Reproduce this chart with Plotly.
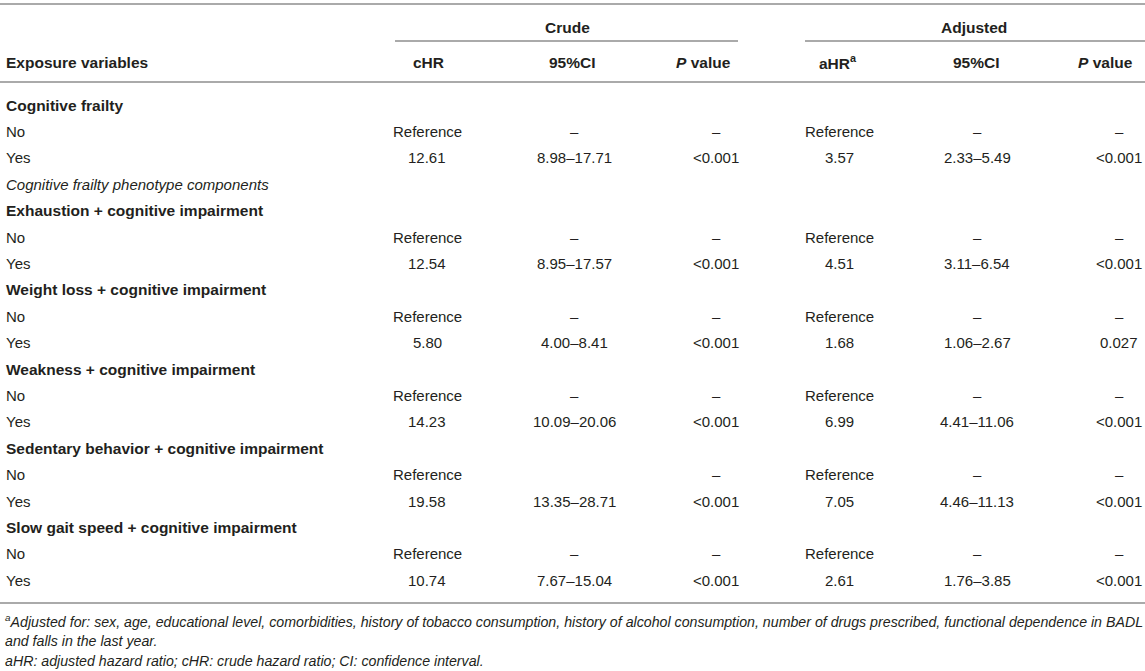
import plotly.graph_objs as go

# table content
row_labels = [
    "Cognitive frailty", "No", "Yes",
    "Cognitive frailty phenotype components",
    "Exhaustion + cognitive impairment", "No", "Yes",
    "Weight loss + cognitive impairment", "No", "Yes",
    "Weakness + cognitive impairment", "No", "Yes",
    "Sedentary behavior + cognitive impairment", "No", "Yes",
    "Slow gait speed + cognitive impairment", "No", "Yes",
]
row_kind = [
    "group", "level", "level",
    "note",
    "group", "level", "level",
    "group", "level", "level",
    "group", "level", "level",
    "group", "level", "level",
    "group", "level", "level",
]
chr_vals = ["", "Reference", "12.61", "", "", "Reference", "12.54", "", "Reference", "5.80",
            "", "Reference", "14.23", "", "Reference", "19.58", "", "Reference", "10.74"]
crude_ci = ["", "–", "8.98–17.71", "", "", "–", "8.95–17.57", "", "–", "4.00–8.41",
            "", "–", "10.09–20.06", "", "", "13.35–28.71", "", "–", "7.67–15.04"]
crude_p = ["", "–", "<0.001", "", "", "–", "<0.001", "", "–", "<0.001",
           "", "–", "<0.001", "", "–", "<0.001", "", "–", "<0.001"]
ahr_vals = ["", "Reference", "3.57", "", "", "Reference", "4.51", "", "Reference", "1.68",
            "", "Reference", "6.99", "", "Reference", "7.05", "", "Reference", "2.61"]
adj_ci = ["", "–", "2.33–5.49", "", "", "–", "3.11–6.54", "", "–", "1.06–2.67",
          "", "–", "4.41–11.06", "", "–", "4.46–11.13", "", "–", "1.76–3.85"]
adj_p = ["", "–", "<0.001", "", "", "–", "<0.001", "", "–", "0.027",
         "", "–", "<0.001", "", "–", "<0.001", "", "–", "<0.001"]

col_headers = ["cHR", "95%CI", "<i>P</i> value", "aHR<sup>a</sup>", "95%CI", "<i>P</i> value"]
group_headers = ["Crude", "Adjusted"]
footnotes = [
    "<sup>a</sup>Adjusted for: sex, age, educational level, comorbidities, history of tobacco consumption, "
    "history of alcohol consumption, number of drugs prescribed, functional dependence in BADL",
    "and falls in the last year.",
    "aHR: adjusted hazard ratio; cHR: crude hazard ratio; CI: confidence interval.",
]

W, H = 1145, 671
FONT = "Liberation Sans, Arial, sans-serif"
TXT = "#231f20"
RULE = "#aaaaaa"

col_x = [427, 574, 716, 839, 977, 1119]
head_x = [428, 572, 703, 838, 976, 1105]
row_y0, row_step = 105, 26.4

fig = go.Figure()

# rules drawn as line traces
rules = [(0, W, 4), (395, 738, 41), (805, W, 41), (0, W, 82), (0, W, 603)]
for a, b, y in rules:
    fig.add_trace(go.Scatter(x=[a, b], y=[y, y], mode="lines",
                             line=dict(color=RULE, width=2),
                             hoverinfo="skip", showlegend=False, cliponaxis=False))

ann = []


def txt(x, y, s, anchor="left", size=15, bold=False, italic=False):
    if bold:
        s = "<b>" + s + "</b>"
        size = 15.5
    if italic:
        s = "<i>" + s + "</i>"
    ann.append(dict(x=x, y=y, xref="x", yref="y", text=s, showarrow=False,
                    xanchor=anchor, yanchor="middle",
                    font=dict(family=FONT, size=size, color=TXT)))


# header
txt(567, 27, group_headers[0], "center", bold=True)
txt(974, 27, group_headers[1], "center", bold=True)
txt(4, 62, "Exposure variables", bold=True)
for hx, h in zip(head_x, col_headers):
    txt(hx, 62, h, "center", bold=True)

# body
cols = [chr_vals, crude_ci, crude_p, ahr_vals, adj_ci, adj_p]
for i, lab in enumerate(row_labels):
    y = row_y0 + i * row_step
    kind = row_kind[i]
    txt(4, y, lab, bold=(kind == "group"), italic=(kind == "note"))
    for cx, col in zip(col_x, cols):
        if col[i]:
            txt(cx, y, col[i].replace("<", "&lt;"), "center")

for j, f in enumerate(footnotes):
    txt(3, 621 + j * 20, f, size=14.2, italic=True)

fig.update_layout(
    width=W, height=H,
    margin=dict(l=0, r=0, t=0, b=0),
    paper_bgcolor="white", plot_bgcolor="white",
    xaxis=dict(range=[0, W], visible=False, fixedrange=True),
    yaxis=dict(range=[H, 0], visible=False, fixedrange=True),
    annotations=ann,
)

# page has a default 8px body margin; drop it so the figure sits at the top-left
fig.write_html("out.html", config={"displayModeBar": False},
               post_script="document.body.style.margin='0';document.body.style.overflow='hidden';")
